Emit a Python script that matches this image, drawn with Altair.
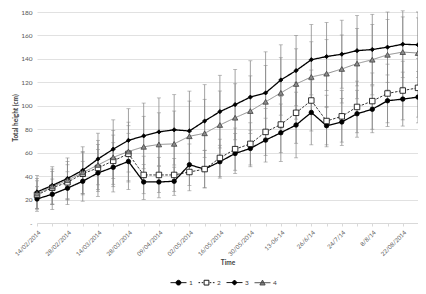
import altair as alt
import pandas as pd

dates = ["14/02/2014", "21/02/2014", "28/02/2014", "07/03/2014", "14/03/2014",
         "21/03/2014", "28/03/2014", "03/04/2014", "09/04/2014", "18/04/2014",
         "02/05/2014", "09/05/2014", "16/05/2014", "23/05/2014", "30/05/2014",
         "06-06-14", "13-06-14", "20/6/14", "26/6/14", "10/7/14", "24/7/14",
         "31/7/14", "8/8/14", "15/8/14", "22/08/2014", "29/08/2014"]
shown_labels = ["14/02/2014", "28/02/2014", "14/03/2014", "28/03/2014", "09/04/2014",
                "02/05/2014", "16/05/2014", "30/05/2014", "13-06-14", "26/6/14",
                "24/7/14", "8/8/14", "22/08/2014"]
series_names = ["1", "2", "3", "4"]

s1 = [20.5, 24.5, 29.7, 35.6, 42.7, 47.5, 52.5, 35, 35, 35.6, 49.7, 46, 52.3,
      59.3, 63.6, 70.7, 77, 83.6, 94.3, 83, 86.2, 93.2, 97, 104.3, 105.7, 107.4]
e1 = [10.5, 13, 14, 17, 20, 21, 24, 15, 13.5, 12, 17.7, 16, 14, 17, 15.6, 18.7,
      24.5, 28, 27.6, 16.3, 20, 20, 20, 22, 23, 22]
s2 = [24, 30, 34.7, 42, 47, 53, 59, 41, 41, 41, 43.5, 46, 55.5, 63, 67.5, 77.7,
      84, 94, 104.5, 87, 91, 99, 104, 110.5, 113, 115.3]
e2 = [12, 14, 15, 18, 20, 22, 24, 16, 15, 14, 16, 16, 16, 18, 18, 20, 24, 26,
      26, 22, 22, 22, 24, 25, 25, 25]
s3 = [26.5, 32, 38, 45, 54.6, 63, 70.5, 74.3, 77.7, 79.5, 78.5, 87, 95, 101,
      107.4, 111, 122, 130, 139.3, 142, 144, 147, 148, 150, 152.5, 152]
e3 = [14, 16, 17.5, 20, 22, 25, 27, 28, 29, 30, 34, 31, 31, 30, 31, 35, 30, 30,
      30, 29, 29, 30, 30, 30, 28.5, 28]
s4 = [25, 31, 36.5, 43, 49.5, 56, 61, 65, 67, 67.5, 74, 76.5, 83.6, 89.8, 95.5,
      103.4, 111, 118.6, 124.6, 127.4, 131.4, 136, 139.3, 143.5, 145.8, 145]
e4 = [13, 15, 16, 18, 21, 23, 25, 26, 27, 28, 30, 29, 29, 29, 30, 31, 30, 30,
      30, 29, 29, 30, 30, 30, 30, 30]

series_shapes = ["circle", "square", "diamond", "triangle-up"]
series_fills = ["#000000", "#ffffff", "#000000", "#8c8c8c"]
series_strokes = ["#000000", "#000000", "#000000", "#404040"]
series_sizes = [20, 30, 18, 30]
line_colors = ["#000000", "#000000", "#000000", "#8c8c8c"]
line_dashes = [[1, 0], [2.5, 1.5], [1, 0], [1, 0]]
line_widths = [1.3, 0.8, 1.3, 1.0]
legend_paths = [
    "M-1,0H1M-0.3,0A0.3,0.3,0,1,1,0.3,0A0.3,0.3,0,1,1,-0.3,0Z",
    "M-1,0H-0.8M-0.6,0H-0.4M0.4,0H0.6M0.8,0H1M-0.3,-0.3H0.3V0.3H-0.3Z",
    "M-1,0H1M0,-0.32L0.32,0L0,0.32L-0.32,0Z",
    "M-1,0H1M0,-0.33L0.33,0.28H-0.33Z",
]

rows = []
for name, vals, errs in zip(series_names, [s1, s2, s3, s4], [e1, e2, e3, e4]):
    for d, v, e in zip(dates, vals, errs):
        rows.append({"date": d, "series": name, "value": v, "lo": v - e, "hi": v + e})
df = pd.DataFrame(rows)

FONT = "Lato"
label_list = "[" + ",".join("'" + s + "'" for s in shown_labels) + "]"

x_enc = alt.X("date:N", sort=dates,
              scale=alt.Scale(type="point", padding=0),
              axis=alt.Axis(labelAngle=-45,
                            labelExpr=f"indexof({label_list}, datum.value) >= 0 ? datum.label : ''",
                            labelOverlap=False, labelFontSize=6,
                            tickSize=3, tickColor="#d9d9d9", domainColor="#d9d9d9",
                            labelPadding=3, titlePadding=3, grid=False),
              title="Time")
y_axis = alt.Axis(values=list(range(0, 181, 20)), labelOverlap=False,
                  labelExpr="datum.value == 0 ? '-' : datum.label",
                  tickSize=0, domain=False, labelPadding=5, titlePadding=2,
                  gridColor="#d9d9d9", gridWidth=0.8)
y_scale = alt.Scale(domain=[0, 180])
YT = "Total height (cm)"


def yenc(field):
    return alt.Y(field, scale=y_scale, axis=y_axis, title=YT)


base = alt.Chart(df)

err_rule = base.mark_rule(color="#8a8a8a", strokeWidth=0.8).encode(
    x=x_enc, y=yenc("lo:Q"), y2="hi:Q", detail="series:N")
cap_hi = base.mark_tick(color="#8a8a8a", thickness=0.8, size=4).encode(
    x=x_enc, y=yenc("hi:Q"), detail="series:N")
cap_lo = base.mark_tick(color="#8a8a8a", thickness=0.8, size=4).encode(
    x=x_enc, y=yenc("lo:Q"), detail="series:N")

line_layers = []
for name, lc, ld, lw in zip(series_names, line_colors, line_dashes, line_widths):
    line_layers.append(
        base.transform_filter(alt.datum.series == name).mark_line(
            color=lc, strokeDash=ld, strokeWidth=lw
        ).encode(x=x_enc, y=yenc("value:Q"))
    )

point_layers = []
for name, shp, fc, sc, sz in zip(series_names, series_shapes, series_fills,
                                 series_strokes, series_sizes):
    point_layers.append(
        base.transform_filter(alt.datum.series == name).mark_point(
            shape=shp, fill=fc, stroke=sc, size=sz, strokeWidth=0.8,
            filled=False, opacity=1, fillOpacity=1,
        ).encode(x=x_enc, y=yenc("value:Q"))
    )

legend = alt.Legend(
    title=None, orient="none", legendX=133, legendY=262, direction="horizontal",
    symbolSize=256, symbolStrokeWidth=0.9, symbolOpacity=1,
    labelFontSize=6.5, labelFont=FONT,
    labelColor="#404040", labelOffset=2, columnPadding=3,
)
legend_layer = base.mark_point(
    filled=False, opacity=0, strokeWidth=0.9
).encode(
    x=x_enc,
    y=yenc("value:Q"),
    shape=alt.Shape("series:N", scale=alt.Scale(domain=series_names, range=legend_paths),
                    legend=legend),
    fill=alt.Fill("series:N", scale=alt.Scale(domain=series_names, range=series_fills),
                  legend=legend),
    stroke=alt.Stroke("series:N", scale=alt.Scale(domain=series_names, range=series_strokes),
                      legend=legend),
)

chart = alt.layer(err_rule, cap_hi, cap_lo, *line_layers, *point_layers,
                  legend_layer).properties(
    width=381, height=211, background="white",
    padding={"left": 29, "top": 4, "right": 0, "bottom": 70},
    autosize=alt.AutoSizeParams(type="none"),
).configure_view(stroke=None).configure_axis(
    labelFont=FONT, labelFontSize=6.5, labelColor="#595959",
    titleFont=FONT, titleFontSize=6.5, titleFontWeight="bold", titleColor="#404040",
).configure_axisY(labelOverlap=False)

chart.save("out.html", embed_options={"renderer": "svg", "actions": False})
